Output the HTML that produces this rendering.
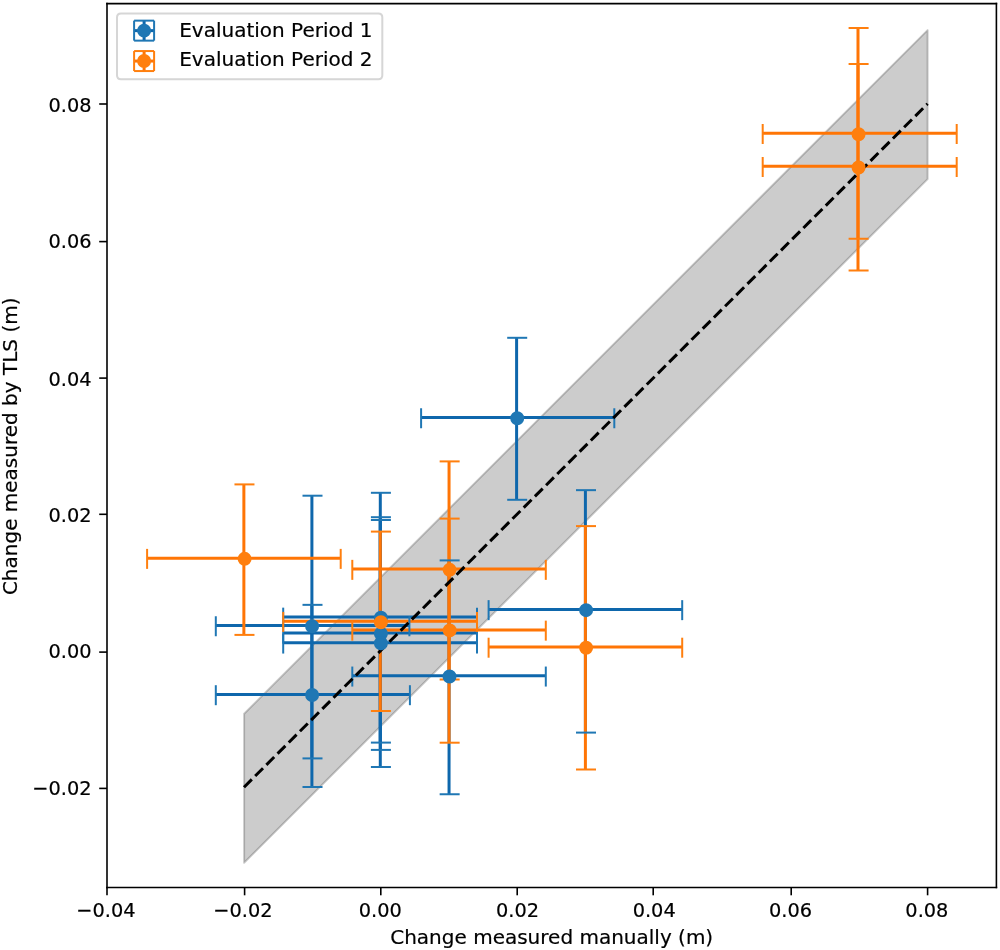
<!DOCTYPE html>
<html lang="en">
<head>
<meta charset="utf-8">
<title>Change measured by TLS vs. manually</title>
<style>
html,body{margin:0;padding:0;background:#ffffff;}
body{width:1000px;height:950px;overflow:hidden;font-family:"DejaVu Sans","Liberation Sans",sans-serif;}
svg{display:block;will-change:transform;}
svg text{fill:#000000;stroke:#000000;stroke-width:0.1px;}
</style>
</head>
<body>
<svg width="1000" height="950" viewBox="0 0 500 475" role="img" aria-label="Change measured by TLS versus change measured manually">
<defs>
<style type="text/css">*{stroke-linejoin: round; stroke-linecap: butt}</style>
</defs>
<g id="figure_1">
<g id="patch_1">
<path d="M 0 475 L 500 475 L 500 0 L 0 0 z " style="fill: #ffffff"/>
</g>
<g id="axes_1">
<g id="patch_2">
<path d="M 53.5 443.75 L 498.2 443.75 L 498.2 1.8 L 53.5 1.8 z " style="fill: #ffffff"/>
</g>
<g id="FillBetweenPolyCollection_1">  <g clip-path="url(#p33b1176f8a)">
<path d="M 122.05 -43.6 L 122.05 -118.1 L 463.8 -459.95 L 463.8 -385.45 L 463.8 -385.45 L 122.05 -43.6 z" transform="translate(0 475)" style="fill-opacity: 0.2; stroke: #000000; stroke-opacity: 0.2; stroke: #000000; stroke-opacity: 0.2"/>
</g>
</g>
<g id="matplotlib.axis_1">
<g id="xtick_1">
<g id="line2d_1">  <g>
<path d="M 0 0 L 0 3.9" transform="translate(53.5 443.75)" style="stroke: #000000; stroke-width: 0.8; stroke: #000000; stroke-width: 0.8"/>
</g>
</g>
<g id="text_1">
<text style="font-size: 10px; font-family: 'DejaVu Sans', 'Liberation Sans', sans-serif; text-anchor: middle" x="52.95" y="458.35" transform="matrix(0.968 0 0 1 1.6944 0)">−0.04</text>
</g>
</g>
<g id="xtick_2">
<g id="line2d_2">
<g>
<path d="M 0 0 L 0 3.9" transform="translate(122.3 443.75)" style="stroke: #000000; stroke-width: 0.8; stroke: #000000; stroke-width: 0.8"/>
</g>
</g>
<g id="text_2">
<text style="font-size: 10px; font-family: 'DejaVu Sans', 'Liberation Sans', sans-serif; text-anchor: middle" x="121.5" y="458.35" transform="matrix(0.968 0 0 1 3.8880 0)">−0.02</text>
</g>
</g>
<g id="xtick_3">
<g id="line2d_3">
<g>
<path d="M 0 0 L 0 3.9" transform="translate(190.4 443.75)" style="stroke: #000000; stroke-width: 0.8; stroke: #000000; stroke-width: 0.8"/>
</g>
</g>
<g id="text_3">
<text style="font-size: 10px; font-family: 'DejaVu Sans', 'Liberation Sans', sans-serif; text-anchor: middle" x="190.15" y="458.35" transform="matrix(0.968 0 0 1 6.0848 0)">0.00</text>
</g>
</g>
<g id="xtick_4">
<g id="line2d_4">
<g>
<path d="M 0 0 L 0 3.9" transform="translate(258.6 443.75)" style="stroke: #000000; stroke-width: 0.8; stroke: #000000; stroke-width: 0.8"/>
</g>
</g>
<g id="text_4">
<text style="font-size: 10px; font-family: 'DejaVu Sans', 'Liberation Sans', sans-serif; text-anchor: middle" x="258.8" y="458.35" transform="matrix(0.968 0 0 1 8.2816 0)">0.02</text>
</g>
</g>
<g id="xtick_5">
<g id="line2d_5">
<g>
<path d="M 0 0 L 0 3.9" transform="translate(326.6 443.75)" style="stroke: #000000; stroke-width: 0.8; stroke: #000000; stroke-width: 0.8"/>
</g>
</g>
<g id="text_5">
<text style="font-size: 10px; font-family: 'DejaVu Sans', 'Liberation Sans', sans-serif; text-anchor: middle" x="327.1" y="458.35" transform="matrix(0.968 0 0 1 10.4672 0)">0.04</text>
</g>
</g>
<g id="xtick_6">
<g id="line2d_6">
<g>
<path d="M 0 0 L 0 3.9" transform="translate(395.6 443.75)" style="stroke: #000000; stroke-width: 0.8; stroke: #000000; stroke-width: 0.8"/>
</g>
</g>
<g id="text_6">
<text style="font-size: 10px; font-family: 'DejaVu Sans', 'Liberation Sans', sans-serif; text-anchor: middle" x="395.3" y="458.35" transform="matrix(0.968 0 0 1 12.6496 0)">0.06</text>
</g>
</g>
<g id="xtick_7">
<g id="line2d_7">
<g>
<path d="M 0 0 L 0 3.9" transform="translate(463.8 443.75)" style="stroke: #000000; stroke-width: 0.8; stroke: #000000; stroke-width: 0.8"/>
</g>
</g>
<g id="text_7">
<text style="font-size: 10px; font-family: 'DejaVu Sans', 'Liberation Sans', sans-serif; text-anchor: middle" x="463.45" y="458.35" transform="matrix(0.968 0 0 1 14.8304 0)">0.08</text>
</g>
</g>
<g id="text_8">
<text style="font-size: 10px; font-family: 'DejaVu Sans', 'Liberation Sans', sans-serif; text-anchor: middle" x="275.85" y="472.025">Change measured manually (m)</text>
</g>
</g>
<g id="matplotlib.axis_2">
<g id="ytick_1">
<g id="line2d_8">  <g>
<path d="M 0 0 L -3.9 0" transform="translate(53.5 394.2)" style="stroke: #000000; stroke-width: 0.8; stroke: #000000; stroke-width: 0.8"/>
</g>
</g>
<g id="text_9">
<text style="font-size: 10px; font-family: 'DejaVu Sans', 'Liberation Sans', sans-serif; text-anchor: end" x="45.8" y="397.675" transform="matrix(0.968 0 0 1 1.4656 0)">−0.02</text>
</g>
</g>
<g id="ytick_2">
<g id="line2d_9">
<g>
<path d="M 0 0 L -3.9 0" transform="translate(53.5 326.05)" style="stroke: #000000; stroke-width: 0.8; stroke: #000000; stroke-width: 0.8"/>
</g>
</g>
<g id="text_10">
<text style="font-size: 10px; font-family: 'DejaVu Sans', 'Liberation Sans', sans-serif; text-anchor: end" x="45.8" y="329.075" transform="matrix(0.968 0 0 1 1.4656 0)">0.00</text>
</g>
</g>
<g id="ytick_3">
<g id="line2d_10">
<g>
<path d="M 0 0 L -3.9 0" transform="translate(53.5 257.15)" style="stroke: #000000; stroke-width: 0.8; stroke: #000000; stroke-width: 0.8"/>
</g>
</g>
<g id="text_11">
<text style="font-size: 10px; font-family: 'DejaVu Sans', 'Liberation Sans', sans-serif; text-anchor: end" x="45.8" y="260.875" transform="matrix(0.968 0 0 1 1.4656 0)">0.02</text>
</g>
</g>
<g id="ytick_4">
<g id="line2d_11">
<g>
<path d="M 0 0 L -3.9 0" transform="translate(53.5 189.05)" style="stroke: #000000; stroke-width: 0.8; stroke: #000000; stroke-width: 0.8"/>
</g>
</g>
<g id="text_12">
<text style="font-size: 10px; font-family: 'DejaVu Sans', 'Liberation Sans', sans-serif; text-anchor: end" x="45.8" y="192.775" transform="matrix(0.968 0 0 1 1.4656 0)">0.04</text>
</g>
</g>
<g id="ytick_5">
<g id="line2d_12">
<g>
<path d="M 0 0 L -3.9 0" transform="translate(53.5 120.8)" style="stroke: #000000; stroke-width: 0.8; stroke: #000000; stroke-width: 0.8"/>
</g>
</g>
<g id="text_13">
<text style="font-size: 10px; font-family: 'DejaVu Sans', 'Liberation Sans', sans-serif; text-anchor: end" x="45.8" y="123.875" transform="matrix(0.968 0 0 1 1.4656 0)">0.06</text>
</g>
</g>
<g id="ytick_6">
<g id="line2d_13">
<g>
<path d="M 0 0 L -3.9 0" transform="translate(53.5 52)" style="stroke: #000000; stroke-width: 0.8; stroke: #000000; stroke-width: 0.8"/>
</g>
</g>
<g id="text_14">
<text style="font-size: 10px; font-family: 'DejaVu Sans', 'Liberation Sans', sans-serif; text-anchor: end" x="45.8" y="55.8" transform="matrix(0.968 0 0 1 1.4656 0)">0.08</text>
</g>
</g>
<g id="text_15">
<text style="font-size: 10px; font-family: 'DejaVu Sans', 'Liberation Sans', sans-serif; text-anchor: middle" x="8.55" y="223.15" transform="rotate(-90 8.55 223.15)">Change measured by TLS (m)</text>
</g>
</g>
<g id="LineCollection_1">
<path d="M 107.9 312.75 L 204.7 312.75 " clip-path="url(#p33b1176f8a)" style="fill: none; stroke: #0e67ac; stroke-width: 1.5"/>
<path d="M 107.9 347.225 L 204.95 347.225 " clip-path="url(#p33b1176f8a)" style="fill: none; stroke: #0e67ac; stroke-width: 1.5"/>
<path d="M 141.6 308.45 L 238.5 308.45 " clip-path="url(#p33b1176f8a)" style="fill: none; stroke: #0e67ac; stroke-width: 1.5"/>
<path d="M 141.6 316.45 L 238.5 316.45 " clip-path="url(#p33b1176f8a)" style="fill: none; stroke: #0e67ac; stroke-width: 1.5"/>
<path d="M 141.6 321.4 L 238.5 321.4 " clip-path="url(#p33b1176f8a)" style="fill: none; stroke: #0e67ac; stroke-width: 1.5"/>
<path d="M 176.15 337.9 L 272.9 337.9 " clip-path="url(#p33b1176f8a)" style="fill: none; stroke: #0e67ac; stroke-width: 1.5"/>
<path d="M 210.55 208.75 L 307.15 208.75 " clip-path="url(#p33b1176f8a)" style="fill: none; stroke: #0e67ac; stroke-width: 1.5"/>
<path d="M 244.3 304.7 L 341.1 304.7 " clip-path="url(#p33b1176f8a)" style="fill: none; stroke: #0e67ac; stroke-width: 1.5"/>
</g>
<g id="LineCollection_2">
<path d="M 155.95 247.85 L 155.95 379.2 " clip-path="url(#p33b1176f8a)" style="fill: none; stroke: #0e67ac; stroke-width: 1.5"/>
<path d="M 155.95 302.425 L 155.95 393.55 " clip-path="url(#p33b1176f8a)" style="fill: none; stroke: #0e67ac; stroke-width: 1.5"/>
<path d="M 190.15 246.4 L 190.15 371.3 " clip-path="url(#p33b1176f8a)" style="fill: none; stroke: #0e67ac; stroke-width: 1.5"/>
<path d="M 190.15 258.6 L 190.15 374.95 " clip-path="url(#p33b1176f8a)" style="fill: none; stroke: #0e67ac; stroke-width: 1.5"/>
<path d="M 190.15 260 L 190.15 383.5 " clip-path="url(#p33b1176f8a)" style="fill: none; stroke: #0e67ac; stroke-width: 1.5"/>
<path d="M 224.525 280.2 L 224.525 397.175 " clip-path="url(#p33b1176f8a)" style="fill: none; stroke: #0e67ac; stroke-width: 1.5"/>
<path d="M 258.3 168.9 L 258.3 249.9 " clip-path="url(#p33b1176f8a)" style="fill: none; stroke: #0e67ac; stroke-width: 1.5"/>
<path d="M 292.7 245.075 L 292.7 366.3 " clip-path="url(#p33b1176f8a)" style="fill: none; stroke: #0e67ac; stroke-width: 1.5"/>
</g>
<g id="LineCollection_3">
<path d="M 73.55 279.065 L 170.35 279.065 " clip-path="url(#p33b1176f8a)" style="fill: none; stroke: #ff7505; stroke-width: 1.5"/>
<path d="M 141.6 310.575 L 238.5 310.575 " clip-path="url(#p33b1176f8a)" style="fill: none; stroke: #ff7505; stroke-width: 1.5"/>
<path d="M 176.15 284.55 L 272.9 284.55 " clip-path="url(#p33b1176f8a)" style="fill: none; stroke: #ff7505; stroke-width: 1.5"/>
<path d="M 176.15 314.95 L 272.9 314.95 " clip-path="url(#p33b1176f8a)" style="fill: none; stroke: #ff7505; stroke-width: 1.5"/>
<path d="M 244.3 323.475 L 341.1 323.475 " clip-path="url(#p33b1176f8a)" style="fill: none; stroke: #ff7505; stroke-width: 1.5"/>
<path d="M 381.35 66.65 L 478.35 66.65 " clip-path="url(#p33b1176f8a)" style="fill: none; stroke: #ff7505; stroke-width: 1.5"/>
<path d="M 381.35 83.175 L 478.35 83.175 " clip-path="url(#p33b1176f8a)" style="fill: none; stroke: #ff7505; stroke-width: 1.5"/>
</g>
<g id="LineCollection_4">
<path d="M 121.935 242.2 L 121.935 317.45 " clip-path="url(#p33b1176f8a)" style="fill: none; stroke: #ff7505; stroke-width: 1.5"/>
<path d="M 190.15 265.8 L 190.15 355.5 " clip-path="url(#p33b1176f8a)" style="fill: none; stroke: #ff7505; stroke-width: 1.5"/>
<path d="M 224.525 230.7 L 224.525 339.75 " clip-path="url(#p33b1176f8a)" style="fill: none; stroke: #ff7505; stroke-width: 1.5"/>
<path d="M 224.525 259.3 L 224.525 371.35 " clip-path="url(#p33b1176f8a)" style="fill: none; stroke: #ff7505; stroke-width: 1.5"/>
<path d="M 292.7 263.05 L 292.7 384.8 " clip-path="url(#p33b1176f8a)" style="fill: none; stroke: #ff7505; stroke-width: 1.5"/>
<path d="M 429 14 L 429 119.4 " clip-path="url(#p33b1176f8a)" style="fill: none; stroke: #ff7505; stroke-width: 1.5"/>
<path d="M 429 31.975 L 429 135.3 " clip-path="url(#p33b1176f8a)" style="fill: none; stroke: #ff7505; stroke-width: 1.5"/>
</g>
<g id="line2d_14">  <g clip-path="url(#p33b1176f8a)">
<path d="M 0 5 L 0 -5" transform="translate(107.9 313.125)" style="fill: #1f77b4; stroke: #1f77b4; stroke: #1f77b4"/>
<path d="M 0 5 L 0 -5" transform="translate(107.9 347.6)" style="fill: #1f77b4; stroke: #1f77b4; stroke: #1f77b4"/>
<path d="M 0 5 L 0 -5" transform="translate(141.6 308.825)" style="fill: #1f77b4; stroke: #1f77b4; stroke: #1f77b4"/>
<path d="M 0 5 L 0 -5" transform="translate(141.6 316.825)" style="fill: #1f77b4; stroke: #1f77b4; stroke: #1f77b4"/>
<path d="M 0 5 L 0 -5" transform="translate(141.6 321.775)" style="fill: #1f77b4; stroke: #1f77b4; stroke: #1f77b4"/>
<path d="M 0 5 L 0 -5" transform="translate(176.15 338.275)" style="fill: #1f77b4; stroke: #1f77b4; stroke: #1f77b4"/>
<path d="M 0 5 L 0 -5" transform="translate(210.55 209.125)" style="fill: #1f77b4; stroke: #1f77b4; stroke: #1f77b4"/>
<path d="M 0 5 L 0 -5" transform="translate(244.3 305.075)" style="fill: #1f77b4; stroke: #1f77b4; stroke: #1f77b4"/>
</g>
</g>
<g id="line2d_15">
<g clip-path="url(#p33b1176f8a)">
<path d="M 0 5 L 0 -5" transform="translate(204.7 313.125)" style="fill: #1f77b4; stroke: #1f77b4; stroke: #1f77b4"/>
<path d="M 0 5 L 0 -5" transform="translate(204.95 347.6)" style="fill: #1f77b4; stroke: #1f77b4; stroke: #1f77b4"/>
<path d="M 0 5 L 0 -5" transform="translate(238.5 308.825)" style="fill: #1f77b4; stroke: #1f77b4; stroke: #1f77b4"/>
<path d="M 0 5 L 0 -5" transform="translate(238.5 316.825)" style="fill: #1f77b4; stroke: #1f77b4; stroke: #1f77b4"/>
<path d="M 0 5 L 0 -5" transform="translate(238.5 321.775)" style="fill: #1f77b4; stroke: #1f77b4; stroke: #1f77b4"/>
<path d="M 0 5 L 0 -5" transform="translate(272.9 338.275)" style="fill: #1f77b4; stroke: #1f77b4; stroke: #1f77b4"/>
<path d="M 0 5 L 0 -5" transform="translate(307.15 209.125)" style="fill: #1f77b4; stroke: #1f77b4; stroke: #1f77b4"/>
<path d="M 0 5 L 0 -5" transform="translate(341.1 305.075)" style="fill: #1f77b4; stroke: #1f77b4; stroke: #1f77b4"/>
</g>
</g>
<g id="line2d_16">  <g clip-path="url(#p33b1176f8a)">
<path d="M 5 0 L -5 -0" transform="translate(156.25 247.85)" style="fill: #1f77b4; stroke: #1f77b4; stroke: #1f77b4"/>
<path d="M 5 0 L -5 -0" transform="translate(156.25 302.425)" style="fill: #1f77b4; stroke: #1f77b4; stroke: #1f77b4"/>
<path d="M 5 0 L -5 -0" transform="translate(190.45 246.4)" style="fill: #1f77b4; stroke: #1f77b4; stroke: #1f77b4"/>
<path d="M 5 0 L -5 -0" transform="translate(190.45 258.6)" style="fill: #1f77b4; stroke: #1f77b4; stroke: #1f77b4"/>
<path d="M 5 0 L -5 -0" transform="translate(190.45 260)" style="fill: #1f77b4; stroke: #1f77b4; stroke: #1f77b4"/>
<path d="M 5 0 L -5 -0" transform="translate(224.825 280.2)" style="fill: #1f77b4; stroke: #1f77b4; stroke: #1f77b4"/>
<path d="M 5 0 L -5 -0" transform="translate(258.6 168.9)" style="fill: #1f77b4; stroke: #1f77b4; stroke: #1f77b4"/>
<path d="M 5 0 L -5 -0" transform="translate(293 245.075)" style="fill: #1f77b4; stroke: #1f77b4; stroke: #1f77b4"/>
</g>
</g>
<g id="line2d_17">
<g clip-path="url(#p33b1176f8a)">
<path d="M 5 0 L -5 -0" transform="translate(156.25 379.2)" style="fill: #1f77b4; stroke: #1f77b4; stroke: #1f77b4"/>
<path d="M 5 0 L -5 -0" transform="translate(156.25 393.55)" style="fill: #1f77b4; stroke: #1f77b4; stroke: #1f77b4"/>
<path d="M 5 0 L -5 -0" transform="translate(190.45 371.3)" style="fill: #1f77b4; stroke: #1f77b4; stroke: #1f77b4"/>
<path d="M 5 0 L -5 -0" transform="translate(190.45 374.95)" style="fill: #1f77b4; stroke: #1f77b4; stroke: #1f77b4"/>
<path d="M 5 0 L -5 -0" transform="translate(190.45 383.5)" style="fill: #1f77b4; stroke: #1f77b4; stroke: #1f77b4"/>
<path d="M 5 0 L -5 -0" transform="translate(224.825 397.175)" style="fill: #1f77b4; stroke: #1f77b4; stroke: #1f77b4"/>
<path d="M 5 0 L -5 -0" transform="translate(258.6 249.9)" style="fill: #1f77b4; stroke: #1f77b4; stroke: #1f77b4"/>
<path d="M 5 0 L -5 -0" transform="translate(293 366.3)" style="fill: #1f77b4; stroke: #1f77b4; stroke: #1f77b4"/>
</g>
</g>
<g id="line2d_18">  <g clip-path="url(#p33b1176f8a)">
<path d="M 0 5 L 0 -5" transform="translate(73.55 279.44)" style="fill: #ff7f0e; stroke: #ff7f0e; stroke: #ff7f0e"/>
<path d="M 0 5 L 0 -5" transform="translate(141.6 310.95)" style="fill: #ff7f0e; stroke: #ff7f0e; stroke: #ff7f0e"/>
<path d="M 0 5 L 0 -5" transform="translate(176.15 284.925)" style="fill: #ff7f0e; stroke: #ff7f0e; stroke: #ff7f0e"/>
<path d="M 0 5 L 0 -5" transform="translate(176.15 315.325)" style="fill: #ff7f0e; stroke: #ff7f0e; stroke: #ff7f0e"/>
<path d="M 0 5 L 0 -5" transform="translate(244.3 323.85)" style="fill: #ff7f0e; stroke: #ff7f0e; stroke: #ff7f0e"/>
<path d="M 0 5 L 0 -5" transform="translate(381.35 67.025)" style="fill: #ff7f0e; stroke: #ff7f0e; stroke: #ff7f0e"/>
<path d="M 0 5 L 0 -5" transform="translate(381.35 83.55)" style="fill: #ff7f0e; stroke: #ff7f0e; stroke: #ff7f0e"/>
</g>
</g>
<g id="line2d_19">
<g clip-path="url(#p33b1176f8a)">
<path d="M 0 5 L 0 -5" transform="translate(170.35 279.44)" style="fill: #ff7f0e; stroke: #ff7f0e; stroke: #ff7f0e"/>
<path d="M 0 5 L 0 -5" transform="translate(238.5 310.95)" style="fill: #ff7f0e; stroke: #ff7f0e; stroke: #ff7f0e"/>
<path d="M 0 5 L 0 -5" transform="translate(272.9 284.925)" style="fill: #ff7f0e; stroke: #ff7f0e; stroke: #ff7f0e"/>
<path d="M 0 5 L 0 -5" transform="translate(272.9 315.325)" style="fill: #ff7f0e; stroke: #ff7f0e; stroke: #ff7f0e"/>
<path d="M 0 5 L 0 -5" transform="translate(341.1 323.85)" style="fill: #ff7f0e; stroke: #ff7f0e; stroke: #ff7f0e"/>
<path d="M 0 5 L 0 -5" transform="translate(478.35 67.025)" style="fill: #ff7f0e; stroke: #ff7f0e; stroke: #ff7f0e"/>
<path d="M 0 5 L 0 -5" transform="translate(478.35 83.55)" style="fill: #ff7f0e; stroke: #ff7f0e; stroke: #ff7f0e"/>
</g>
</g>
<g id="line2d_20">  <g clip-path="url(#p33b1176f8a)">
<path d="M 5 0 L -5 -0" transform="translate(122.235 242.2)" style="fill: #ff7f0e; stroke: #ff7f0e; stroke: #ff7f0e"/>
<path d="M 5 0 L -5 -0" transform="translate(190.45 265.8)" style="fill: #ff7f0e; stroke: #ff7f0e; stroke: #ff7f0e"/>
<path d="M 5 0 L -5 -0" transform="translate(224.825 230.7)" style="fill: #ff7f0e; stroke: #ff7f0e; stroke: #ff7f0e"/>
<path d="M 5 0 L -5 -0" transform="translate(224.825 259.3)" style="fill: #ff7f0e; stroke: #ff7f0e; stroke: #ff7f0e"/>
<path d="M 5 0 L -5 -0" transform="translate(293 263.05)" style="fill: #ff7f0e; stroke: #ff7f0e; stroke: #ff7f0e"/>
<path d="M 5 0 L -5 -0" transform="translate(429.3 14)" style="fill: #ff7f0e; stroke: #ff7f0e; stroke: #ff7f0e"/>
<path d="M 5 0 L -5 -0" transform="translate(429.3 31.975)" style="fill: #ff7f0e; stroke: #ff7f0e; stroke: #ff7f0e"/>
</g>
</g>
<g id="line2d_21">
<g clip-path="url(#p33b1176f8a)">
<path d="M 5 0 L -5 -0" transform="translate(122.235 317.45)" style="fill: #ff7f0e; stroke: #ff7f0e; stroke: #ff7f0e"/>
<path d="M 5 0 L -5 -0" transform="translate(190.45 355.5)" style="fill: #ff7f0e; stroke: #ff7f0e; stroke: #ff7f0e"/>
<path d="M 5 0 L -5 -0" transform="translate(224.825 339.75)" style="fill: #ff7f0e; stroke: #ff7f0e; stroke: #ff7f0e"/>
<path d="M 5 0 L -5 -0" transform="translate(224.825 371.35)" style="fill: #ff7f0e; stroke: #ff7f0e; stroke: #ff7f0e"/>
<path d="M 5 0 L -5 -0" transform="translate(293 384.8)" style="fill: #ff7f0e; stroke: #ff7f0e; stroke: #ff7f0e"/>
<path d="M 5 0 L -5 -0" transform="translate(429.3 119.4)" style="fill: #ff7f0e; stroke: #ff7f0e; stroke: #ff7f0e"/>
<path d="M 5 0 L -5 -0" transform="translate(429.3 135.3)" style="fill: #ff7f0e; stroke: #ff7f0e; stroke: #ff7f0e"/>
</g>
</g>
<g id="line2d_22">
<path d="M 122 393.6 L 463.8 51.9 " clip-path="url(#p33b1176f8a)" style="fill: none; stroke-dasharray: 5.522,2.388; stroke-dashoffset: 0; stroke: #000000; stroke-width: 1.5"/>
</g>
<g id="line2d_23">  <g clip-path="url(#p33b1176f8a)">
<path d="M 0 3 C 0.795609 3 1.55874 2.683901 2.12132 2.12132 C 2.683901 1.55874 3 0.795609 3 0 C 3 -0.795609 2.683901 -1.55874 2.12132 -2.12132 C 1.55874 -2.683901 0.795609 -3 0 -3 C -0.795609 -3 -1.55874 -2.683901 -2.12132 -2.12132 C -2.683901 -1.55874 -3 -0.795609 -3 0 C -3 0.795609 -2.683901 1.55874 -2.12132 2.12132 C -1.55874 2.683901 -0.795609 3 0 3 z" transform="translate(156.05 313.15)" style="fill: #1f77b4; stroke: #1f77b4; stroke: #1f77b4"/>
<path d="M 0 3 C 0.795609 3 1.55874 2.683901 2.12132 2.12132 C 2.683901 1.55874 3 0.795609 3 0 C 3 -0.795609 2.683901 -1.55874 2.12132 -2.12132 C 1.55874 -2.683901 0.795609 -3 0 -3 C -0.795609 -3 -1.55874 -2.683901 -2.12132 -2.12132 C -2.683901 -1.55874 -3 -0.795609 -3 0 C -3 0.795609 -2.683901 1.55874 -2.12132 2.12132 C -1.55874 2.683901 -0.795609 3 0 3 z" transform="translate(156.05 347.5)" style="fill: #1f77b4; stroke: #1f77b4; stroke: #1f77b4"/>
<path d="M 0 3 C 0.795609 3 1.55874 2.683901 2.12132 2.12132 C 2.683901 1.55874 3 0.795609 3 0 C 3 -0.795609 2.683901 -1.55874 2.12132 -2.12132 C 1.55874 -2.683901 0.795609 -3 0 -3 C -0.795609 -3 -1.55874 -2.683901 -2.12132 -2.12132 C -2.683901 -1.55874 -3 -0.795609 -3 0 C -3 0.795609 -2.683901 1.55874 -2.12132 2.12132 C -1.55874 2.683901 -0.795609 3 0 3 z" transform="translate(190.45 308.9)" style="fill: #1f77b4; stroke: #1f77b4; stroke: #1f77b4"/>
<path d="M 0 3 C 0.795609 3 1.55874 2.683901 2.12132 2.12132 C 2.683901 1.55874 3 0.795609 3 0 C 3 -0.795609 2.683901 -1.55874 2.12132 -2.12132 C 1.55874 -2.683901 0.795609 -3 0 -3 C -0.795609 -3 -1.55874 -2.683901 -2.12132 -2.12132 C -2.683901 -1.55874 -3 -0.795609 -3 0 C -3 0.795609 -2.683901 1.55874 -2.12132 2.12132 C -1.55874 2.683901 -0.795609 3 0 3 z" transform="translate(190.45 316.85)" style="fill: #1f77b4; stroke: #1f77b4; stroke: #1f77b4"/>
<path d="M 0 3 C 0.795609 3 1.55874 2.683901 2.12132 2.12132 C 2.683901 1.55874 3 0.795609 3 0 C 3 -0.795609 2.683901 -1.55874 2.12132 -2.12132 C 1.55874 -2.683901 0.795609 -3 0 -3 C -0.795609 -3 -1.55874 -2.683901 -2.12132 -2.12132 C -2.683901 -1.55874 -3 -0.795609 -3 0 C -3 0.795609 -2.683901 1.55874 -2.12132 2.12132 C -1.55874 2.683901 -0.795609 3 0 3 z" transform="translate(190.45 321.65)" style="fill: #1f77b4; stroke: #1f77b4; stroke: #1f77b4"/>
<path d="M 0 3 C 0.795609 3 1.55874 2.683901 2.12132 2.12132 C 2.683901 1.55874 3 0.795609 3 0 C 3 -0.795609 2.683901 -1.55874 2.12132 -2.12132 C 1.55874 -2.683901 0.795609 -3 0 -3 C -0.795609 -3 -1.55874 -2.683901 -2.12132 -2.12132 C -2.683901 -1.55874 -3 -0.795609 -3 0 C -3 0.795609 -2.683901 1.55874 -2.12132 2.12132 C -1.55874 2.683901 -0.795609 3 0 3 z" transform="translate(224.75 338.25)" style="fill: #1f77b4; stroke: #1f77b4; stroke: #1f77b4"/>
<path d="M 0 3 C 0.795609 3 1.55874 2.683901 2.12132 2.12132 C 2.683901 1.55874 3 0.795609 3 0 C 3 -0.795609 2.683901 -1.55874 2.12132 -2.12132 C 1.55874 -2.683901 0.795609 -3 0 -3 C -0.795609 -3 -1.55874 -2.683901 -2.12132 -2.12132 C -2.683901 -1.55874 -3 -0.795609 -3 0 C -3 0.795609 -2.683901 1.55874 -2.12132 2.12132 C -1.55874 2.683901 -0.795609 3 0 3 z" transform="translate(258.6 209.15)" style="fill: #1f77b4; stroke: #1f77b4; stroke: #1f77b4"/>
<path d="M 0 3 C 0.795609 3 1.55874 2.683901 2.12132 2.12132 C 2.683901 1.55874 3 0.795609 3 0 C 3 -0.795609 2.683901 -1.55874 2.12132 -2.12132 C 1.55874 -2.683901 0.795609 -3 0 -3 C -0.795609 -3 -1.55874 -2.683901 -2.12132 -2.12132 C -2.683901 -1.55874 -3 -0.795609 -3 0 C -3 0.795609 -2.683901 1.55874 -2.12132 2.12132 C -1.55874 2.683901 -0.795609 3 0 3 z" transform="translate(293.05 305.075)" style="fill: #1f77b4; stroke: #1f77b4; stroke: #1f77b4"/>
</g>
</g>
<g id="line2d_24">  <g clip-path="url(#p33b1176f8a)">
<path d="M 0 3 C 0.795609 3 1.55874 2.683901 2.12132 2.12132 C 2.683901 1.55874 3 0.795609 3 0 C 3 -0.795609 2.683901 -1.55874 2.12132 -2.12132 C 1.55874 -2.683901 0.795609 -3 0 -3 C -0.795609 -3 -1.55874 -2.683901 -2.12132 -2.12132 C -2.683901 -1.55874 -3 -0.795609 -3 0 C -3 0.795609 -2.683901 1.55874 -2.12132 2.12132 C -1.55874 2.683901 -0.795609 3 0 3 z" transform="translate(122.3 279.425)" style="fill: #ff7f0e; stroke: #ff7f0e; stroke: #ff7f0e"/>
<path d="M 0 3 C 0.795609 3 1.55874 2.683901 2.12132 2.12132 C 2.683901 1.55874 3 0.795609 3 0 C 3 -0.795609 2.683901 -1.55874 2.12132 -2.12132 C 1.55874 -2.683901 0.795609 -3 0 -3 C -0.795609 -3 -1.55874 -2.683901 -2.12132 -2.12132 C -2.683901 -1.55874 -3 -0.795609 -3 0 C -3 0.795609 -2.683901 1.55874 -2.12132 2.12132 C -1.55874 2.683901 -0.795609 3 0 3 z" transform="translate(190.45 311.1)" style="fill: #ff7f0e; stroke: #ff7f0e; stroke: #ff7f0e"/>
<path d="M 0 3 C 0.795609 3 1.55874 2.683901 2.12132 2.12132 C 2.683901 1.55874 3 0.795609 3 0 C 3 -0.795609 2.683901 -1.55874 2.12132 -2.12132 C 1.55874 -2.683901 0.795609 -3 0 -3 C -0.795609 -3 -1.55874 -2.683901 -2.12132 -2.12132 C -2.683901 -1.55874 -3 -0.795609 -3 0 C -3 0.795609 -2.683901 1.55874 -2.12132 2.12132 C -1.55874 2.683901 -0.795609 3 0 3 z" transform="translate(224.8 284.925)" style="fill: #ff7f0e; stroke: #ff7f0e; stroke: #ff7f0e"/>
<path d="M 0 3 C 0.795609 3 1.55874 2.683901 2.12132 2.12132 C 2.683901 1.55874 3 0.795609 3 0 C 3 -0.795609 2.683901 -1.55874 2.12132 -2.12132 C 1.55874 -2.683901 0.795609 -3 0 -3 C -0.795609 -3 -1.55874 -2.683901 -2.12132 -2.12132 C -2.683901 -1.55874 -3 -0.795609 -3 0 C -3 0.795609 -2.683901 1.55874 -2.12132 2.12132 C -1.55874 2.683901 -0.795609 3 0 3 z" transform="translate(224.85 315.2)" style="fill: #ff7f0e; stroke: #ff7f0e; stroke: #ff7f0e"/>
<path d="M 0 3 C 0.795609 3 1.55874 2.683901 2.12132 2.12132 C 2.683901 1.55874 3 0.795609 3 0 C 3 -0.795609 2.683901 -1.55874 2.12132 -2.12132 C 1.55874 -2.683901 0.795609 -3 0 -3 C -0.795609 -3 -1.55874 -2.683901 -2.12132 -2.12132 C -2.683901 -1.55874 -3 -0.795609 -3 0 C -3 0.795609 -2.683901 1.55874 -2.12132 2.12132 C -1.55874 2.683901 -0.795609 3 0 3 z" transform="translate(293.05 323.85)" style="fill: #ff7f0e; stroke: #ff7f0e; stroke: #ff7f0e"/>
<path d="M 0 3 C 0.795609 3 1.55874 2.683901 2.12132 2.12132 C 2.683901 1.55874 3 0.795609 3 0 C 3 -0.795609 2.683901 -1.55874 2.12132 -2.12132 C 1.55874 -2.683901 0.795609 -3 0 -3 C -0.795609 -3 -1.55874 -2.683901 -2.12132 -2.12132 C -2.683901 -1.55874 -3 -0.795609 -3 0 C -3 0.795609 -2.683901 1.55874 -2.12132 2.12132 C -1.55874 2.683901 -0.795609 3 0 3 z" transform="translate(429.275 67.125)" style="fill: #ff7f0e; stroke: #ff7f0e; stroke: #ff7f0e"/>
<path d="M 0 3 C 0.795609 3 1.55874 2.683901 2.12132 2.12132 C 2.683901 1.55874 3 0.795609 3 0 C 3 -0.795609 2.683901 -1.55874 2.12132 -2.12132 C 1.55874 -2.683901 0.795609 -3 0 -3 C -0.795609 -3 -1.55874 -2.683901 -2.12132 -2.12132 C -2.683901 -1.55874 -3 -0.795609 -3 0 C -3 0.795609 -2.683901 1.55874 -2.12132 2.12132 C -1.55874 2.683901 -0.795609 3 0 3 z" transform="translate(429.275 83.75)" style="fill: #ff7f0e; stroke: #ff7f0e; stroke: #ff7f0e"/>
</g>
</g>
<g id="patch_3">
<path d="M 53.5 443.75 L 53.5 1.8 " style="fill: none; stroke: #000000; stroke-width: 0.8; stroke-linejoin: miter; stroke-linecap: square"/>
</g>
<g id="patch_4">
<path d="M 498.2 443.75 L 498.2 1.8 " style="fill: none; stroke: #000000; stroke-width: 0.8; stroke-linejoin: miter; stroke-linecap: square"/>
</g>
<g id="patch_5">
<path d="M 53.5 443.75 L 498.2 443.75 " style="fill: none; stroke: #000000; stroke-width: 0.8; stroke-linejoin: miter; stroke-linecap: square"/>
</g>
<g id="patch_6">
<path d="M 53.5 1.8 L 498.2 1.8 " style="fill: none; stroke: #000000; stroke-width: 0.8; stroke-linejoin: miter; stroke-linecap: square"/>
</g>
<g id="legend_1">
<g id="patch_7">
<path d="M 60.5 39.6562 L 189.159375 39.6562 Q 191.159375 39.6562 191.159375 37.6562 L 191.159375 8.8 Q 191.159375 6.8 189.159375 6.8 L 60.5 6.8 Q 58.5 6.8 58.5 8.8 L 58.5 37.6562 Q 58.5 39.6562 60.5 39.6562 z " style="fill: #ffffff; opacity: 0.8; stroke: #cccccc; stroke-linejoin: miter"/>
</g>
<g id="LineCollection_5">
<path d="M 67.0500 15.3184 L 77.0500 15.3184 " style="fill: none; stroke: #0e67ac; stroke-width: 1.5"/>
</g>
<g id="LineCollection_6">
<path d="M 72.0500 20.3184 L 72.0500 10.3184 " style="fill: none; stroke: #0e67ac; stroke-width: 1.5"/>
</g>
<g id="line2d_25">
<g>
<path d="M 0 5 L 0 -5" transform="translate(67.05 15.3184)" style="fill: #1f77b4; stroke: #1f77b4; stroke: #1f77b4"/>
</g>
</g>
<g id="line2d_26">
<g>
<path d="M 0 5 L 0 -5" transform="translate(77.05 15.3184)" style="fill: #1f77b4; stroke: #1f77b4; stroke: #1f77b4"/>
</g>
</g>
<g id="line2d_27">
<g>
<path d="M 5 0 L -5 -0" transform="translate(72.05 20.3184)" style="fill: #1f77b4; stroke: #1f77b4; stroke: #1f77b4"/>
</g>
</g>
<g id="line2d_28">
<g>
<path d="M 5 0 L -5 -0" transform="translate(72.05 10.3184)" style="fill: #1f77b4; stroke: #1f77b4; stroke: #1f77b4"/>
</g>
</g>
<g id="line2d_29"/>
<g id="line2d_30">
<g>
<path d="M 0 3 C 0.795609 3 1.55874 2.683901 2.12132 2.12132 C 2.683901 1.55874 3 0.795609 3 0 C 3 -0.795609 2.683901 -1.55874 2.12132 -2.12132 C 1.55874 -2.683901 0.795609 -3 0 -3 C -0.795609 -3 -1.55874 -2.683901 -2.12132 -2.12132 C -2.683901 -1.55874 -3 -0.795609 -3 0 C -3 0.795609 -2.683901 1.55874 -2.12132 2.12132 C -1.55874 2.683901 -0.795609 3 0 3 z" transform="translate(72.05 15.3184)" style="fill: #1f77b4; stroke: #1f77b4; stroke: #1f77b4"/>
</g>
</g>
<g id="text_16">
<text style="font-size: 10px; font-family: 'DejaVu Sans', 'Liberation Sans', sans-serif; text-anchor: start" x="89.6000" y="18.3984">Evaluation Period 1</text>
</g>
<g id="LineCollection_7">
<path d="M 67.0500 30.5266 L 77.0500 30.5266 " style="fill: none; stroke: #ff7505; stroke-width: 1.5"/>
</g>
<g id="LineCollection_8">
<path d="M 72.0500 35.5266 L 72.0500 25.5266 " style="fill: none; stroke: #ff7505; stroke-width: 1.5"/>
</g>
<g id="line2d_31">
<g>
<path d="M 0 5 L 0 -5" transform="translate(67.05 30.5266)" style="fill: #ff7f0e; stroke: #ff7f0e; stroke: #ff7f0e"/>
</g>
</g>
<g id="line2d_32">
<g>
<path d="M 0 5 L 0 -5" transform="translate(77.05 30.5266)" style="fill: #ff7f0e; stroke: #ff7f0e; stroke: #ff7f0e"/>
</g>
</g>
<g id="line2d_33">
<g>
<path d="M 5 0 L -5 -0" transform="translate(72.05 35.5266)" style="fill: #ff7f0e; stroke: #ff7f0e; stroke: #ff7f0e"/>
</g>
</g>
<g id="line2d_34">
<g>
<path d="M 5 0 L -5 -0" transform="translate(72.05 25.5266)" style="fill: #ff7f0e; stroke: #ff7f0e; stroke: #ff7f0e"/>
</g>
</g>
<g id="line2d_35"/>
<g id="line2d_36">
<g>
<path d="M 0 3 C 0.795609 3 1.55874 2.683901 2.12132 2.12132 C 2.683901 1.55874 3 0.795609 3 0 C 3 -0.795609 2.683901 -1.55874 2.12132 -2.12132 C 1.55874 -2.683901 0.795609 -3 0 -3 C -0.795609 -3 -1.55874 -2.683901 -2.12132 -2.12132 C -2.683901 -1.55874 -3 -0.795609 -3 0 C -3 0.795609 -2.683901 1.55874 -2.12132 2.12132 C -1.55874 2.683901 -0.795609 3 0 3 z" transform="translate(72.05 30.5266)" style="fill: #ff7f0e; stroke: #ff7f0e; stroke: #ff7f0e"/>
</g>
</g>
<g id="text_17">
<text style="font-size: 10px; font-family: 'DejaVu Sans', 'Liberation Sans', sans-serif; text-anchor: start" x="89.6000" y="32.9266">Evaluation Period 2</text>
</g>
</g>
</g>
</g>
<defs>
<clipPath id="p33b1176f8a">
<rect x="53.5" y="1.8" width="444.7" height="441.95"/>
</clipPath>
</defs>
</svg> 
</body>
</html>
